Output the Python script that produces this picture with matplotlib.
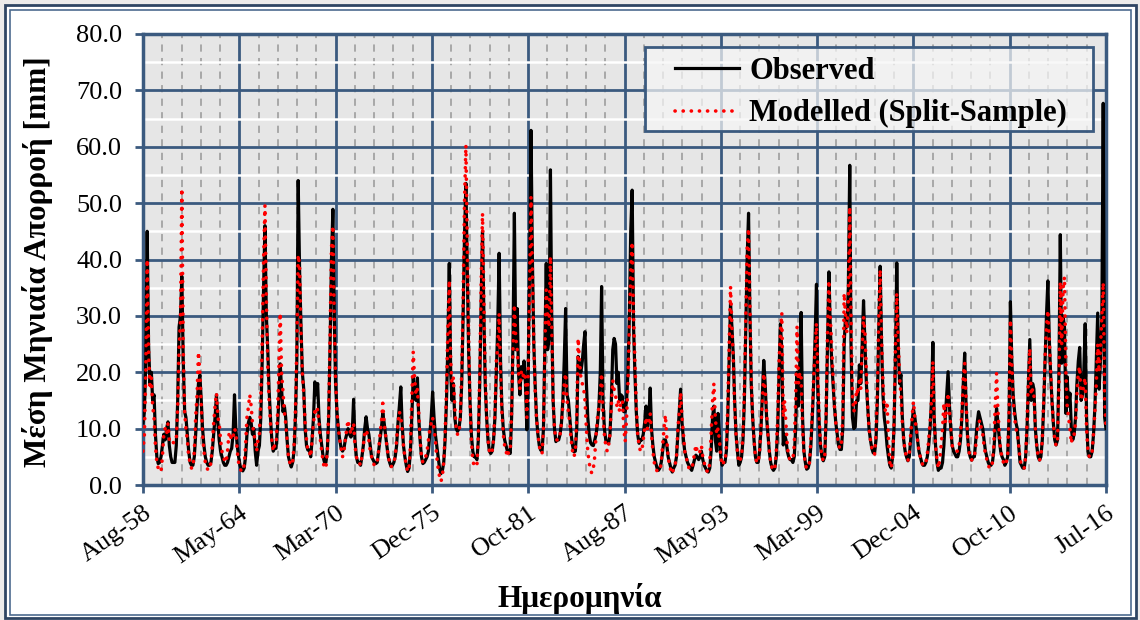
import numpy as np
import pandas as pd
import matplotlib
matplotlib.use('Agg')
import matplotlib.pyplot as plt
import matplotlib.dates as mdates
from matplotlib.patches import Rectangle

# Μέση μηνιαία απορροή [mm], Aug-58 .. Jul-16 (μία γραμμή = ένα υδρολογικό έτος Αυγ-Ιουλ)
observed = [
    11, 13, 22, 45, 25, 18, 20, 15, 16, 9, 5, 3.8,
    4, 5, 7, 9, 8, 10, 11.2, 7, 5, 4, 4, 4,
    7, 15, 28, 30, 37, 22, 13, 12, 9, 6, 4, 3.5,
    3.5, 5, 9, 14, 18, 19.5, 15, 10, 7, 5, 4, 3.5,
    3.5, 4, 6, 9, 12, 16, 11, 8, 6, 5, 4, 3.5,
    3.5, 4, 5, 6, 6.5, 9, 16, 10, 7, 5, 3.5, 2.7,
    2.5, 3, 5, 9, 11, 12, 11, 9, 10, 6, 3.5, 6,
    7, 12, 22, 35, 46, 30, 24, 17, 12, 8, 6, 6.5,
    6.5, 10, 15, 21.5, 17, 13, 14, 12, 8, 5, 4, 3.2,
    4, 6, 12, 22, 54, 38, 28, 20, 17, 10, 7, 6.2,
    6.2, 5, 8, 12, 18.3, 16, 18, 12, 9, 7, 5, 4,
    4, 6, 12, 25, 40, 48.9, 30, 18, 13, 10, 8, 6.5,
    6, 6.5, 8, 9, 10, 9, 8.5, 9, 15.2, 8, 5, 4,
    4, 3.5, 5, 7, 10, 12.1, 10, 9, 7, 5, 4.5, 4,
    3.8, 4, 6, 8, 10, 12.8, 11, 9, 7, 5, 4, 3.3,
    3.5, 4, 5, 7, 11, 14, 17.4, 11, 7, 5, 3.5, 2.4,
    3, 6, 12, 19.2, 16, 15, 19, 12, 8, 5, 3.8, 4,
    4.5, 5, 6, 9, 12, 16.5, 12, 9, 7, 5, 3, 2,
    2.5, 4, 8, 15, 25, 39.3, 20, 15, 18, 12, 10, 9.5,
    10, 12, 18, 30, 44, 53.5, 38, 24, 15, 9, 6, 5,
    5, 4.5, 8, 18, 32, 45, 30, 18, 12, 8, 6, 5.6,
    6, 8, 12, 20, 28, 41.1, 22, 14, 10, 8, 7, 6,
    6, 5.6, 12, 26, 48.2, 24, 31.3, 20, 16, 21, 19, 22,
    18, 9.8, 20, 40, 62.9, 40, 25, 18, 12, 9, 7, 6.2,
    6, 10, 25, 39.3, 24, 26, 55.9, 30, 15, 10, 7.7, 8,
    8, 9, 11, 15, 22, 31.3, 16, 15, 12, 9, 7, 5.9,
    6, 10, 22.8, 21, 20, 22, 25, 27.2, 18, 12, 9, 7.5,
    7.1, 7, 8, 9, 11, 14, 20, 35.2, 15, 10, 8, 7.5,
    7.4, 9, 15, 24, 26, 25, 18, 20, 15, 16, 15.7, 13,
    13, 15, 20, 30, 45, 52.3, 28, 20, 13, 9, 7.4, 8,
    8, 9, 11, 14, 10, 12, 17.2, 10, 7, 5, 4, 3,
    2.6, 3, 4, 6, 8, 8, 7, 5, 4, 3, 2.3, 3,
    3.5, 5, 9, 13, 17, 11, 8, 6, 5, 4, 3.5, 3,
    2.6, 3.5, 4.5, 5.3, 5, 4.5, 5, 6, 4.5, 3.5, 3, 2.5,
    2.3, 3, 6, 12, 14, 8, 6, 12.7, 9, 5, 3.5, 4,
    4, 6, 12, 22, 32.2, 28, 22.8, 15, 9, 6, 3.5, 4,
    5, 8, 15, 28, 40, 48.2, 30, 18, 12, 8, 5, 4,
    4, 6, 10, 16, 22.1, 18, 12, 9, 6, 4, 3, 2.6,
    3, 5, 10, 20, 28.6, 24, 7.1, 9, 8, 6, 5, 4.5,
    4.5, 4, 5, 10, 20, 14, 22, 30.6, 12, 6, 4, 2.8,
    3, 4, 7, 12, 18, 26, 35.6, 18, 11, 7, 5, 4.3,
    5, 12, 25, 37.8, 28, 22, 18, 14, 11, 9, 7, 6.3,
    6.3, 10, 25, 30, 28, 35, 56.7, 25, 12, 10, 10.3, 15,
    15, 21.3, 18, 25, 32.7, 25, 18, 14, 10, 8, 6.5, 5.7,
    5.7, 8, 15, 28, 38.8, 25, 16, 12, 10, 7, 5, 3.5,
    3, 5, 10, 22, 39.4, 25, 18, 19.6, 12, 8, 6, 5,
    4.3, 5, 8, 11, 13.5, 12, 10, 8, 6, 5, 4, 3.5,
    3.5, 4, 5, 7, 10, 15, 25.3, 12, 7, 4, 2.6, 3,
    3, 4, 7, 12, 16, 20.1, 14, 10, 7, 6, 5.5, 5,
    5, 6, 8, 12, 18, 23.4, 14, 9, 6, 5, 4.4, 5,
    5, 8, 11, 13, 12, 11, 10, 8, 6, 5, 4, 3.5,
    3.5, 4, 6, 10, 13.6, 11, 8, 6, 5, 4.5, 3.5, 4,
    5, 12, 32.5, 22, 16, 13, 11, 10, 7, 4, 3.5, 3,
    3, 5, 10, 18, 25.8, 15, 18, 17, 10, 7, 5, 4.4,
    5, 8, 14, 22, 30, 36.2, 26, 20, 15, 11, 8, 7.1,
    8, 20, 44.4, 21.6, 30, 28, 12.7, 19.2, 14, 16.3, 10, 8,
    9, 12, 18, 22, 24.4, 15, 16, 20, 28.6, 12, 6, 5,
    5, 6, 9, 14, 22, 30.5, 17, 22, 30, 67.7, 12, 10,
]

modelled = [
    6, 9, 20, 40, 24, 17, 19, 14, 12, 7, 4, 3,
    3, 2.4, 5, 9, 10, 9, 10.9, 8, 7.5, 7.8, 7.5, 8,
    8, 14, 24, 29, 52.6, 24, 13, 10, 8, 5, 4, 3,
    3, 6, 12, 16, 23.6, 20, 14, 9, 6, 4, 3, 2.7,
    2.7, 4, 7, 11, 14, 16.3, 12, 11, 8, 6, 5, 4.3,
    4, 6, 9, 8, 9, 8.5, 10, 9.4, 6, 4, 3, 2.4,
    2.5, 3.5, 7, 12, 13.7, 16, 14, 11, 9, 8, 6, 8,
    9, 15, 25, 40, 49.6, 33, 21, 15, 11, 8, 6, 7,
    7, 12, 20, 30.5, 20, 16.5, 13, 11, 8, 5, 4, 3.5,
    4, 7, 13, 25, 40.8, 39, 27, 20, 16, 11, 8, 6,
    6, 5, 8, 11, 13, 12.5, 13.5, 11, 8, 6, 4, 3,
    3, 6, 13, 27, 42, 46, 29, 19, 13, 10, 8, 6.5,
    5, 6, 8, 10, 11.5, 10, 9, 10, 11, 7, 5, 4,
    4, 3.5, 5, 7, 9, 9.8, 9, 8, 6, 5, 4, 3.5,
    3.5, 4, 6, 9, 11, 14.5, 11, 9, 7, 5, 4, 3.2,
    3.5, 4, 5, 8, 11, 13, 12, 10, 7, 5, 3.5, 2.4,
    3, 7, 15, 23.6, 19, 16, 17, 13, 8, 5, 4, 4.5,
    5, 6, 8, 10, 11, 12, 10, 8, 5, 3, 1.5, 0.6,
    1.5, 4, 9, 17, 28, 36.3, 22, 18, 19, 14, 10, 9,
    9, 12, 20, 33, 50, 60.3, 42, 26, 15, 8, 4.5, 3.3,
    3.3, 3.5, 9, 20, 35, 48.2, 32, 20, 12, 8, 6, 5.5,
    6, 8, 13, 22, 24.5, 30.4, 20, 13, 9, 7, 6, 5,
    6, 6, 13, 24, 32, 26, 24, 20, 17, 20, 19, 20,
    19, 12, 20, 35, 51.1, 38, 25, 17, 12, 9, 7, 5.6,
    5.6, 10, 24, 34.6, 30, 28, 40.5, 28, 15, 10, 8, 8,
    8, 9, 11, 14, 18, 19.8, 15, 13, 11, 8, 6, 5,
    6, 12, 26, 22, 19, 18, 17, 15, 10, 6, 4, 2.5,
    2.1, 3, 5, 9, 12, 14, 16, 19.8, 12, 9, 7, 6,
    7, 9, 14, 18.6, 17, 16, 14, 15, 13, 15, 15, 10,
    7.7, 12, 18, 28, 38, 43.1, 30, 22.2, 14, 9, 7, 6,
    6, 8, 10, 12, 10, 11, 12.7, 9, 6, 4, 3, 2.5,
    2.5, 2.5, 4, 7, 10, 12.4, 8, 5, 3.5, 2.5, 2, 3,
    3.5, 5, 10, 13, 16.4, 12, 9, 6, 5, 4, 3, 3,
    2.8, 4, 5.5, 7.1, 6, 5.5, 6, 7, 5, 4, 3, 2.5,
    2.3, 4, 9, 15, 18, 12, 9, 10, 8, 5, 3.5, 4,
    4, 7, 14, 25, 35.2, 28, 22, 14, 9, 6, 4, 4.5,
    5, 9, 17, 30, 42, 45.5, 32, 19, 12, 8, 5, 4,
    4, 6, 10, 15, 19.8, 17, 13, 9, 6, 4, 3, 2.6,
    3, 6, 12, 22, 27, 30.5, 12, 15, 11, 7, 5, 4.5,
    4.5, 4.5, 7, 15, 28.1, 18, 20, 19, 10, 6, 3.5, 3,
    3, 4, 8, 13, 19, 24, 28.7, 20, 12, 7, 5, 4.3,
    5, 13, 27, 36.3, 30, 24.5, 19, 14, 11, 9, 7, 6.5,
    7, 12, 34, 30, 27, 33, 49.3, 30, 16, 13, 14, 17,
    16, 19, 17, 24, 29.9, 27, 20, 14, 10, 8, 6.5, 5.5,
    5.5, 9, 17, 30, 38.2, 26, 18, 14, 13, 14.8, 8, 4,
    3, 5, 11, 24, 34, 26, 19, 16, 11, 8, 6, 5,
    4.3, 5.5, 9, 12, 14.8, 12, 10, 8, 6, 5, 4, 3.5,
    3.5, 4, 5.5, 8, 11, 15, 21.9, 12, 7, 4.5, 3, 4.4,
    7, 10, 14.5, 11, 14, 16.3, 13, 10, 7, 6.5, 6, 6,
    6, 7, 9, 13, 19, 21.6, 15, 9, 6, 5, 4.4, 5,
    5, 7, 9.5, 11, 11.5, 10, 9, 7, 5.5, 4.5, 3.5, 3,
    3, 4, 7, 14, 19.8, 13, 9, 6, 5, 4, 3.5, 4,
    5, 13, 29.3, 22, 15, 12, 10, 9, 7, 4.5, 3.5, 3,
    3, 5, 11, 19, 24.2, 16, 17, 16, 10, 7, 5, 4.4,
    5, 8, 15, 23, 28, 31, 26, 21, 15, 11, 8, 7,
    8, 18, 36, 25, 35, 36.9, 20, 14, 12, 10, 7.4, 9,
    9, 11, 16, 20, 21, 15, 16, 18, 19, 10, 6, 5,
    5, 6, 9.2, 13, 18, 25, 20, 24, 30, 35.9, 15, 10,
]

tick_labels = ['Aug-58', 'May-64', 'Mar-70', 'Dec-75', 'Oct-81', 'Aug-87',
               'May-93', 'Mar-99', 'Dec-04', 'Oct-10', 'Jul-16']

dates = pd.date_range('1958-08-01', periods=len(observed), freq='MS')

plt.rcParams['font.family'] = ['Liberation Serif', 'DejaVu Serif']

blue = '#3b5a7f'
W, H = 1140, 620

fig = plt.figure(figsize=(W / 100, H / 100), dpi=100, facecolor='#ecebea')
# πλαίσιο γραφήματος
fig.patches.append(Rectangle((5 / W, 2 / H), 1131 / W, 613 / H, transform=fig.transFigure,
                             facecolor='white', edgecolor='#2f4563', lw=2, zorder=-2))
fig.patches.append(Rectangle((10 / W, 5 / H), 1121 / W, 605 / H, transform=fig.transFigure,
                             facecolor='none', edgecolor='#4d6b8f', lw=1.2, zorder=-1))

ax = fig.add_axes([143 / W, 135 / H, 963 / W, 451 / H])
ax.set_facecolor('#e6e6e6')

ax.plot(dates, observed, color='black', lw=2.3, label='Observed', zorder=3)
ax.plot(dates, modelled, color='red', lw=2.6, linestyle=(0, (0.05, 2.2)),
        dash_capstyle='round', label='Modelled (Split-Sample)', zorder=4)

x0, x1 = mdates.date2num(dates[0]), mdates.date2num(dates[-1])
ax.set_xlim(x0, x1)
ax.set_ylim(0, 80)
ax.set_xticks(np.linspace(x0, x1, len(tick_labels)))
ax.set_xticks(np.linspace(x0, x1, 5 * (len(tick_labels) - 1) + 1), minor=True)
ax.set_xticklabels(tick_labels, rotation=35, ha='right', va='top', rotation_mode='anchor')
ax.set_yticks(np.arange(0, 81, 10))
ax.set_yticks(np.arange(5, 80, 10), minor=True)
ax.yaxis.set_major_formatter(matplotlib.ticker.FormatStrFormatter('%.1f'))

ax.set_axisbelow(True)
ax.grid(which='major', color=blue, lw=2)
ax.grid(which='minor', axis='y', color='white', lw=1.8)
ax.grid(which='minor', axis='x', color='#a3a3a3', lw=1.3, linestyle=(0, (4, 3.5)))

ax.tick_params(which='major', length=6, width=2, color=blue, labelsize=19)
ax.tick_params(axis='y', which='major', pad=9)
ax.tick_params(axis='x', which='major', pad=6)
ax.tick_params(which='minor', length=0)
for s in ax.spines.values():
    s.set_color(blue)
    s.set_linewidth(2.5)

# πλαίσιο υπομνήματος
ax.add_patch(Rectangle((0.5213, 0.785), 0.4652, 0.1862, transform=ax.transAxes,
                       facecolor=(0.965, 0.965, 0.965, 0.72), edgecolor=blue, lw=2, zorder=5))
leg = ax.legend(loc='upper left', bbox_to_anchor=(0.5525, 0.950), frameon=False,
                prop={'weight': 'bold', 'size': 22}, handlelength=2.1,
                handletextpad=0.33, labelspacing=0.45, borderpad=0, borderaxespad=0)
leg.set_zorder(6)

fig.text(38 / W, 1 - 262 / H, 'Μέση Μηνιαία Απορροή [mm]', rotation=90, ha='center',
         va='center', fontsize=22.5, fontweight='bold')
fig.text(580 / W, 1 - 598 / H, 'Ημερομηνία', ha='center', va='center',
         fontsize=22.5, fontweight='bold')

fig.savefig('out.png', dpi=100, facecolor=fig.get_facecolor())
